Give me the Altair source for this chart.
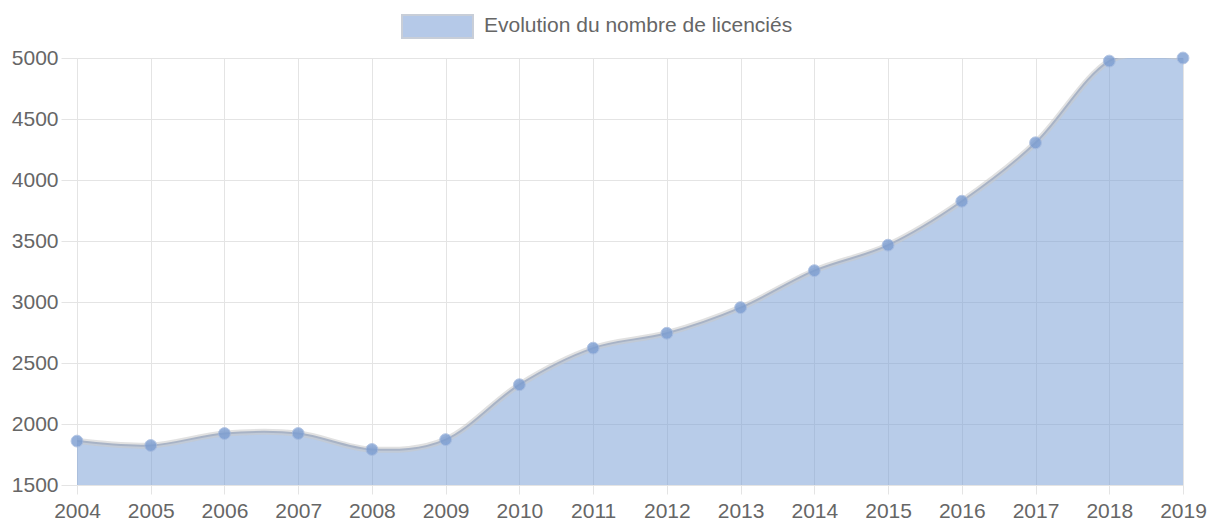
import altair as alt
import pandas as pd

# ---- data ----
years = [2004, 2005, 2006, 2007, 2008, 2009, 2010, 2011, 2012, 2013,
         2014, 2015, 2016, 2017, 2018, 2019]
licencies = [1860, 1824, 1922, 1922, 1791, 1872, 2322, 2622, 2744, 2954,
             3257, 3466, 3826, 4305, 4975, 5000]
y_ticks = [1500, 2000, 2500, 3000, 3500, 4000, 4500, 5000]
legend_label = "Evolution du nombre de licenciés"

df = pd.DataFrame({"annee": years, "licencies": licencies})
leg_df = pd.DataFrame({"label": [legend_label]})

FONT = "Liberation Sans"
GRID = "#e4e4e4"
LABEL = "#666666"

x = alt.X(
    "annee:Q",
    scale=alt.Scale(domain=[years[0], years[-1]], nice=False, zero=False),
    axis=alt.Axis(values=years, format="d", title=None, grid=True,
                  gridColor=GRID, domainColor=GRID, tickColor=GRID,
                  tickSize=9, labelPadding=6, labelFont=FONT,
                  labelFontSize=21, labelColor=LABEL, labelFlush=False,
                  labelOverlap=False),
)
y = alt.Y(
    "licencies:Q",
    scale=alt.Scale(domain=[y_ticks[0], y_ticks[-1]], nice=False, zero=False),
    axis=alt.Axis(values=y_ticks, format="d", title=None, grid=True,
                  gridColor=GRID, domainColor=GRID, tickColor=GRID,
                  tickSize=16, labelPadding=3, labelFont=FONT,
                  labelFontSize=21, labelColor=LABEL, labelFlush=False,
                  labelOverlap=False),
)

base = alt.Chart(df).encode(x=x, y=y)

area = base.mark_area(interpolate="cardinal", color="#7299d4",
                      opacity=0.5, clip=True).encode(y2=alt.datum(y_ticks[0]))
shadow = base.mark_line(interpolate="cardinal", color="#c8c8c8",
                        strokeWidth=6, opacity=0.55, clip=True)
line = base.mark_line(interpolate="cardinal", color="#a8b3c6",
                      strokeWidth=2, clip=True)
points = base.mark_circle(size=140, color="#7b9dd2", opacity=0.8,
                          stroke="#a3b9de", strokeWidth=1)

leg_rect = alt.Chart(leg_df).mark_rect(
    fill="#b5c9e8", stroke="#c8ced8", strokeWidth=2
).encode(x=alt.value(325), x2=alt.value(396), y=alt.value(-43), y2=alt.value(-20))
leg_text = alt.Chart(leg_df).mark_text(
    align="left", baseline="middle", font=FONT, fontSize=21, color=LABEL
).encode(x=alt.value(407), y=alt.value(-32), text="label:N")

chart = (
    alt.layer(area, shadow, line, points, leg_rect, leg_text)
    .properties(
        width=1106, height=427,
        padding={"left": 69, "top": 50, "right": 25, "bottom": 39},
        autosize=alt.AutoSizeParams(type="none"),
    )
    .configure_view(stroke=None)
)

chart.save("out.html", embed_options={"renderer": "svg", "actions": False})
